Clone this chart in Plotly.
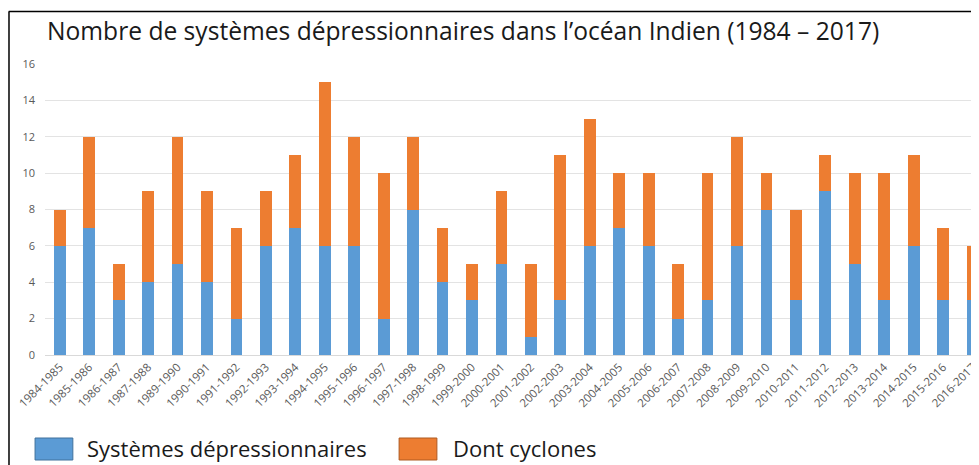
import plotly.graph_objects as go

categories = ["1984-1985", "1985-1986", "1986-1987", "1987-1988", "1989-1990", "1990-1991",
              "1991-1992", "1992-1993", "1993-1994", "1994-1995", "1995-1996", "1996-1997",
              "1997-1998", "1998-1999", "1999-2000", "2000-2001", "2001-2002", "2002-2003",
              "2003-2004", "2004-2005", "2005-2006", "2006-2007", "2007-2008", "2008-2009",
              "2009-2010", "2010-2011", "2011-2012", "2012-2013", "2013-2014", "2014-2015",
              "2015-2016", "2016-2017"]
systemes = [6, 7, 3, 4, 5, 4, 2, 6, 7, 6, 6, 2, 8, 4, 3, 5, 1, 3, 6, 7, 6, 2, 3, 6, 8, 3, 9, 5, 3, 6, 3, 3]
totaux = [8, 12, 5, 9, 12, 9, 7, 9, 11, 15, 12, 10, 12, 7, 5, 9, 5, 11, 13, 10, 10, 5, 10, 12, 10, 8, 11, 10, 10, 11, 7, 6]
cyclones = [t - s for t, s in zip(totaux, systemes)]
y_ticks = [0, 2, 4, 6, 8, 10, 12, 14, 16]

BLUE = "#5B9BD5"
ORANGE = "#ED7D31"
FONT = "Open Sans"

OFF = 8  # page body margin
W, H = 979 - OFF, 465 - OFF
L, R, T, B = 37, 0, 56, 110
pw, ph = W - L - R, H - T - B


def px(x):
    return (x - OFF - L) / pw


def py(y):
    return (H - B - (y - OFF)) / ph


fig = go.Figure()
fig.add_trace(go.Bar(x=categories, y=systemes, name="Systèmes dépressionnaires",
                     marker=dict(color=BLUE, line=dict(width=0))))
fig.add_trace(go.Bar(x=categories, y=cyclones, name="Dont cyclones",
                     marker=dict(color=ORANGE, line=dict(width=0))))

shapes = [
    dict(type="line", xref="paper", yref="paper", x0=px(8.5), x1=px(990), y0=py(11.5), y1=py(11.5),
         line=dict(color="#000000", width=1.5)),
    dict(type="line", xref="paper", yref="paper", x0=px(8.8), x1=px(8.8), y0=py(11.5), y1=py(480),
         line=dict(color="#000000", width=1.5)),
    dict(type="rect", xref="paper", yref="paper", x0=px(35), x1=px(73), y0=py(438), y1=py(460),
         fillcolor=BLUE, line=dict(color="#41719C", width=1)),
    dict(type="rect", xref="paper", yref="paper", x0=px(401), x1=px(439), y0=py(438), y1=py(460),
         fillcolor=ORANGE, line=dict(color="#AE5A21", width=1)),
]

annotations = [
    dict(text="Nombre de systèmes dépressionnaires dans l’océan Indien (1984 – 2017)",
         xref="paper", yref="paper", x=px(45), y=py(31), xanchor="left", yanchor="middle",
         showarrow=False, font=dict(family=FONT, size=24.6, color="#1a1a1a")),
    dict(text="Systèmes dépressionnaires", xref="paper", yref="paper", x=px(85), y=py(448),
         xanchor="left", yanchor="middle", showarrow=False,
         font=dict(family=FONT, size=22, color="#1a1a1a")),
    dict(text="Dont cyclones", xref="paper", yref="paper", x=px(453), y=py(448),
         xanchor="left", yanchor="middle", showarrow=False,
         font=dict(family=FONT, size=22, color="#1a1a1a")),
]

fig.update_layout(
    width=W, height=H,
    margin=dict(l=L, r=R, t=T, b=B, pad=0),
    barmode="stack", bargap=0.6,
    paper_bgcolor="white", plot_bgcolor="white",
    showlegend=False,
    shapes=shapes, annotations=annotations,
    font=dict(family=FONT, color="#595959"),
    xaxis=dict(type="category", range=[-0.5, 31.05], tickangle=-45,
               tickfont=dict(family=FONT, size=11.5, color="#595959"),
               showgrid=False, showline=True, linecolor="#d9d9d9", linewidth=1,
               ticks="", fixedrange=True),
    yaxis=dict(range=[0, 16], tickvals=y_ticks, ticktext=[str(v) for v in y_ticks],
               tickfont=dict(family=FONT, size=11, color="#595959"),
               showgrid=True, gridcolor="#e3e3e3", gridwidth=1, zeroline=False,
               showline=False, ticks="", ticklabelstandoff=9),
)

fig.write_html("out.html")
